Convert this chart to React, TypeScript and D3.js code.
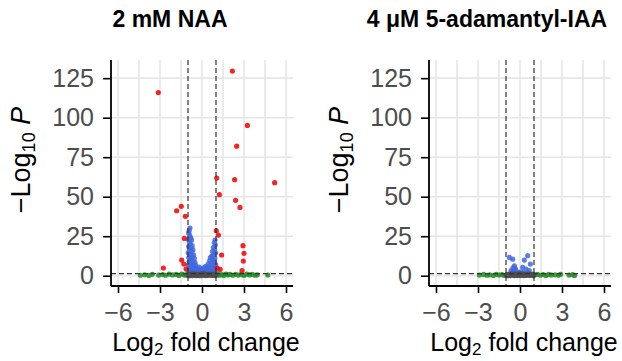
import { useEffect, useRef } from 'react';
import * as d3 from 'd3';

type Pt = [number, number];

// 2 mM NAA
const naaRed: Pt[] = [
  [-3.12, 115.9], [2.17, 129.5], [3.24, 95.1], [2.48, 82.0], [1.05, 61.8], [2.33, 60.8],
  [5.19, 58.9], [1.24, 51.3], [2.4, 47.7], [2.71, 43.2], [-1.48, 43.9], [-1.81, 41.1],
  [-1.19, 37.6], [1.02, 28.5], [1.17, 25.7], [-1.26, 23.6], [-1.45, 9.9], [-1.29, 7.4],
  [-2.76, 4.9], [1.4, 13.1], [2.93, 19.0], [3.0, 14.1], [2.95, 9.3], [2.86, 3.2],
  [1.08, 4.9], [1.29, 4.0], [-1.14, 4.2],
];

const naaBlue: Pt[] = [
  [-0.86, 30.2], [-0.92, 28.5], [-0.95, 27], [-0.88, 25.5], [-0.8, 24], [-0.97, 23],
  [-0.9, 21.5], [-0.75, 22.5], [-0.85, 20], [-0.7, 19], [-0.95, 18.5], [-0.8, 17.5],
  [-0.65, 16.5], [-0.9, 16], [-0.72, 15], [-0.98, 14.5], [-0.85, 13.5], [-0.6, 13],
  [-0.75, 12], [-0.95, 11.5], [-0.55, 11], [-0.82, 10.5], [-0.68, 9.5], [-0.92, 9],
  [-0.5, 8.5], [-0.78, 8], [-0.6, 7.2], [-0.97, 6.8], [-0.45, 6.5], [-0.7, 6],
  [-0.85, 5.5], [-0.55, 5], [-0.4, 4.6], [-0.92, 4.2], [-0.65, 4], [-0.35, 3.6],
  [-0.78, 3.2], [-0.5, 3], [-0.3, 2.6], [-0.95, 2.4], [-0.6, 2.2], [-0.42, 2],
  [-0.25, 1.8], [-0.85, 1.7], [-0.7, 1.6], [-0.18, 1.5], [-0.5, 1.45],
  [-0.2, 5.5], [0.1, 5], [0, 4], [-0.12, 3.5], [0.2, 3], [-0.3, 4.5], [0.25, 6], [-0.05, 2.5],
  [0.93, 22.6], [0.88, 21], [0.95, 19.5], [0.82, 18], [0.9, 16.5], [0.75, 15.5],
  [0.97, 14.5], [0.85, 13.5], [0.7, 12.5], [0.6, 11.5], [0.92, 11], [0.78, 10],
  [0.55, 9.5], [0.88, 8.8], [0.68, 8], [0.45, 7.5], [0.98, 7], [0.8, 6.5],
  [0.58, 6], [0.38, 5.5], [0.9, 5], [0.7, 4.6], [0.48, 4.2], [0.3, 3.8],
  [0.85, 3.5], [0.62, 3.2], [0.4, 2.8], [0.22, 2.5], [0.95, 2.3], [0.75, 2.1],
  [0.52, 1.9], [0.15, 1.8], [0.33, 1.6], [0.68, 1.5], [0.1, 1.45], [0.88, 1.4],
];

const naaGreen: Pt[] = [
  [-4.4, 0.3], [-4.1, 0.6], [-3.8, 0.2], [-3.55, 0.9], [-3.1, 0.4], [-2.8, 0.7],
  [-2.6, 0.3], [-2.35, 1.0], [-2.1, 0.5], [-1.85, 0.8], [-1.65, 0.2], [-1.45, 1.1],
  [-1.3, 0.6], [-1.15, 0.3], [-1.05, 0.9], [1.05, 0.5], [1.15, 1.0], [1.25, 0.3],
  [1.4, 0.7], [1.55, 0.2], [1.7, 1.1], [1.85, 0.5], [2.0, 0.8], [2.2, 0.3],
  [2.4, 0.9], [2.6, 0.4], [2.8, 0.7], [3.0, 0.2], [3.2, 1.0], [3.4, 0.5],
  [3.6, 0.8], [3.8, 0.3], [3.95, 0.6], [4.7, 0.4],
];

const naaGrey: Pt[] = [
  [-0.98, 0.2], [-0.9, 0.9], [-0.82, 0.4], [-0.75, 1.1], [-0.68, 0.1], [-0.6, 0.7],
  [-0.52, 0.3], [-0.45, 1.0], [-0.38, 0.5], [-0.3, 0.2], [-0.22, 0.8], [-0.15, 0.4],
  [-0.08, 1.2], [0, 0.1], [0.08, 0.6], [0.15, 0.3], [0.22, 1.0], [0.3, 0.5],
  [0.38, 0.2], [0.45, 0.9], [0.52, 0.4], [0.6, 1.1], [0.68, 0.2], [0.75, 0.7],
  [0.82, 0.3], [0.9, 1.0], [0.97, 0.5], [-0.95, 0.6], [0.95, 0.1], [-0.4, 0.1],
  [-0.88, 0.0], [-0.72, 0.5], [-0.56, 0.9], [-0.34, 0.7], [-0.18, 0.1], [0.04, 0.9],
  [0.26, 0.1], [0.42, 0.6], [0.64, 0.6], [0.86, 0.6], [-0.64, 1.2], [0.12, 1.2],
];

// 4 uM 5-adamantyl-IAA
const aiaaBlue: Pt[] = [
  [-0.76, 11.6], [-0.52, 10.5], [-0.4, 6.3], [-0.5, 5.0], [-0.35, 4.6], [-0.64, 3.2],
  [-0.17, 2.1], [0.55, 12.7], [0.31, 9.9], [0.74, 7.4], [0.19, 5.3], [0.43, 4.2],
  [0.66, 3.2], [0.05, 2.5], [-0.3, 3.5], [-0.45, 2.4], [0.28, 2.0], [0.6, 1.8],
];

const aiaaGreen: Pt[] = [
  [-2.9, 0.4], [-2.6, 0.8], [-2.35, 0.3], [-2.15, 0.6], [-1.9, 0.2], [-1.7, 0.9],
  [-1.5, 0.4], [-1.3, 0.7], [-1.15, 0.3], [1.05, 0.5], [1.25, 0.9], [1.45, 0.3],
  [1.65, 0.7], [1.85, 0.2], [2.05, 0.8], [2.25, 0.4], [2.5, 0.6], [2.75, 0.3],
  [2.9, 0.9], [3.5, 0.4], [3.75, 0.7], [3.9, 0.2],
];

const aiaaGrey: Pt[] = naaGrey;

const xTicks = [-6, -3, 0, 3, 6];
const xGrid = [-6, -4.5, -3, -1.5, 0, 1.5, 3, 4.5, 6];
const yTicks = [0, 25, 50, 75, 100, 125];
const fcCut = 1;
const pCut = 1.3;

const FONT = 'Liberation Sans, Arial, Helvetica, sans-serif';

export default function App() {
  const svgRef = useRef<SVGSVGElement>(null);

  useEffect(() => {
    if (!svgRef.current) return;
    const svg = d3.select(svgRef.current);
    svg.selectAll('*').remove();

    const panels = [
      { title: '2 mM NAA', ox: 0, titleX: 170, red: naaRed, blue: naaBlue, green: naaGreen, grey: naaGrey },
      { title: '4 \u03BCM 5-adamantyl-IAA', ox: 318, titleX: 487, red: [] as Pt[], blue: aiaaBlue, green: aiaaGreen, grey: aiaaGrey },
    ];

    panels.forEach((p) => {
      const g = svg.append('g').attr('transform', `translate(${p.ox},0)`);
      const x = d3.scaleLinear().domain([-6.5, 6.5]).range([111, 293]);
      const y = d3.scaleLinear().domain([-6.5, 136.5]).range([286, 60]);

      // grid
      g.selectAll('.vg')
        .data(xGrid)
        .enter()
        .append('line')
        .attr('x1', (d) => x(d))
        .attr('x2', (d) => x(d))
        .attr('y1', y(136.5))
        .attr('y2', y(-6.5))
        .attr('stroke', '#e6e6e6')
        .attr('stroke-width', 1.6);
      g.selectAll('.hg')
        .data(yTicks)
        .enter()
        .append('line')
        .attr('x1', x(-6.5))
        .attr('x2', x(6.5))
        .attr('y1', (d) => y(d))
        .attr('y2', (d) => y(d))
        .attr('stroke', '#e6e6e6')
        .attr('stroke-width', 1.6);

      const dot = (data: Pt[], fill: string) =>
        g.append('g')
          .selectAll('circle')
          .data(data)
          .enter()
          .append('circle')
          .attr('cx', (d) => x(d[0]))
          .attr('cy', (d) => y(d[1]))
          .attr('r', 2.6)
          .attr('fill', fill)
          .attr('fill-opacity', 0.85);

      dot(p.green, '#228b22');
      dot(p.blue, '#4169e1');
      dot(p.grey, '#4d4d4d');
      dot(p.red, '#ee0000');

      // cutoff lines
      [-fcCut, fcCut].forEach((v) => {
        g.append('line')
          .attr('x1', x(v))
          .attr('x2', x(v))
          .attr('y1', y(136.5))
          .attr('y2', y(-6.5))
          .attr('stroke', '#333')
          .attr('stroke-width', 1.2)
          .attr('stroke-dasharray', '5,3');
      });
      g.append('line')
        .attr('x1', x(-6.5))
        .attr('x2', x(6.5))
        .attr('y1', y(pCut))
        .attr('y2', y(pCut))
        .attr('stroke', '#333')
        .attr('stroke-width', 1.2)
        .attr('stroke-dasharray', '5,3');

      // axes
      const xa = g.append('g').attr('transform', `translate(0,${y(-6.5)})`)
        .call(d3.axisBottom(x).tickValues(xTicks).tickSize(7).tickPadding(10).tickFormat((d) => d3.format('')(d as number).replace('-', '\u2212')));
      const ya = g.append('g').attr('transform', `translate(${x(-6.5)},0)`)
        .call(d3.axisLeft(y).tickValues(yTicks).tickSize(8).tickPadding(9));
      [xa, ya].forEach((a) => {
        a.select('.domain').attr('stroke', '#000').attr('stroke-width', 1.8);
        a.selectAll('.tick line').attr('stroke', '#000').attr('stroke-width', 1.6);
        a.selectAll('.tick text').attr('fill', '#4d4d4d').attr('font-size', 25).attr('font-family', FONT);
      });
      ya.select('.domain').attr('d', `M0,${y(136.5)}V${y(-6.5)}`);
      xa.select('.domain').attr('d', `M0,0H${x(6.5) - x(-6.5)}`).attr('transform', `translate(${x(-6.5)},0)`);

      // title
      g.append('text')
        .attr('x', p.titleX - p.ox)
        .attr('y', 27)
        .attr('text-anchor', 'middle')
        .attr('font-family', FONT)
        .attr('font-weight', 'bold')
        .attr('font-size', 23)
        .attr('fill', '#000')
        .text(p.title);

      // x title
      const xt = g.append('text')
        .attr('x', 206)
        .attr('y', 351)
        .attr('text-anchor', 'middle')
        .attr('font-family', FONT)
        .attr('font-size', 25)
        .attr('fill', '#000');
      xt.append('tspan').text('Log');
      xt.append('tspan').attr('font-size', 17).attr('dy', 4).text('2');
      xt.append('tspan').attr('dy', -4).text(' fold change');

      // y title
      const yt = g.append('text')
        .attr('transform', `translate(30,160) rotate(-90)`)
        .attr('text-anchor', 'middle')
        .attr('font-family', FONT)
        .attr('font-size', 27)
        .attr('fill', '#000');
      yt.append('tspan').text('\u2212Log');
      yt.append('tspan').attr('font-size', 18).attr('dy', 5).text('10');
      yt.append('tspan').attr('dy', -5).text(' ');
      yt.append('tspan').attr('font-style', 'italic').text('P');
    });
  }, []);

  return (
    <svg
      ref={svgRef}
      width={622}
      height={361}
      style={{ position: 'absolute', left: 0, top: 0, background: '#fff' }}
    />
  );
}
